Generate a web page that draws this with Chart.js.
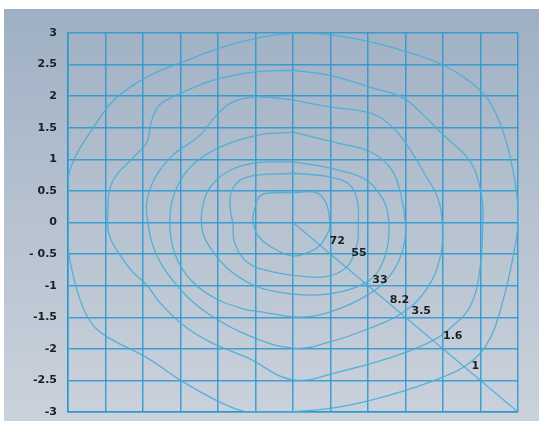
<!DOCTYPE html>
<html>
<head>
<meta charset="utf-8">
<script src="https://cdn.jsdelivr.net/npm/chart.js@4.4.1/dist/chart.umd.min.js"></script>
<style>
  html, body { margin: 0; padding: 0; background: #ffffff; }
  #wrap { width: 539px; height: 421px; position: relative; }
</style>
</head>
<body>
<div id="wrap"><canvas id="c" width="539" height="421"></canvas></div>
<script>
// Y tick labels as printed on the reference
const yTickValues = [3, 2.5, 2, 1.5, 1, 0.5, 0, -0.5, -1, -1.5, -2, -2.5, -3];
const yTickLabels = ["3", "2.5", "2", "1.5", "1", "0.5", "0", "- 0.5", "-1", "-1.5", "-2", "-2.5", "-3"];

// Contour levels and their label anchor points
const levels = ["72", "55", "33", "8.2", "3.5", "1.6", "1"];
const labelPoints = [[0.59, -0.30], [0.88, -0.48], [1.16, -0.91], [1.42, -1.23], [1.71, -1.40], [2.13, -1.80], [2.43, -2.28]];

// Contour outlines, closed curves
const contour72 = [[0,0.47],[0.32,0.47],[0.45,0.28],[0.49,-0.04],[0.47,-0.15],[0.36,-0.36],[0.19,-0.48],[0,-0.53],[-0.21,-0.44],[-0.44,-0.25],[-0.53,-0.02],[-0.53,0.12],[-0.44,0.42],[-0.27,0.47]];
const contour55 = [[0,0.78],[0.49,0.72],[0.76,0.59],[0.86,0.32],[0.87,-0.04],[0.86,-0.31],[0.74,-0.67],[0.53,-0.83],[0.23,-0.86],[-0.27,-0.78],[-0.61,-0.63],[-0.78,-0.31],[-0.80,-0.04],[-0.84,0.28],[-0.80,0.55],[-0.61,0.72]];
const contour33 = [[0,0.96],[0.49,0.86],[0.94,0.70],[1.16,0.44],[1.26,0.17],[1.27,-0.31],[1.16,-0.72],[0.99,-0.94],[0.63,-1.10],[0.23,-1.15],[-0.21,-1.10],[-0.53,-0.99],[-0.88,-0.72],[-1.15,-0.31],[-1.22,-0.04],[-1.20,0.28],[-1.11,0.55],[-0.88,0.80],[-0.53,0.94]];
const contour8_2 = [[0,1.43],[0.59,1.26],[1.03,1.12],[1.30,0.86],[1.43,0.48],[1.50,-0.04],[1.47,-0.40],[1.30,-0.83],[0.99,-1.15],[0.49,-1.42],[0.09,-1.50],[-0.35,-1.43],[-0.71,-1.35],[-1.11,-1.15],[-1.42,-0.83],[-1.60,-0.40],[-1.64,0.12],[-1.55,0.55],[-1.34,0.91],[-0.98,1.19],[-0.48,1.38]];
const contour3_5 = [[0,1.94],[0.49,1.83],[1.03,1.73],[1.30,1.54],[1.52,1.23],[1.74,0.80],[1.93,0.39],[1.99,-0.04],[1.97,-0.51],[1.79,-1.04],[1.47,-1.42],[1.03,-1.67],[0.49,-1.89],[0,-1.99],[-0.61,-1.78],[-1.11,-1.46],[-1.47,-1.10],[-1.82,-0.51],[-1.95,0.12],[-1.94,0.39],[-1.82,0.75],[-1.60,1.07],[-1.24,1.38],[-1.02,1.70],[-0.80,1.91],[-0.48,1.99]];
const contour1_6 = [[0,2.41],[0.49,2.33],[1.03,2.14],[1.47,1.97],[1.74,1.70],[2.01,1.38],[2.33,1.02],[2.46,0.70],[2.53,0.28],[2.53,-0.04],[2.50,-0.67],[2.37,-1.31],[2.10,-1.67],[1.83,-1.89],[1.30,-2.14],[0.63,-2.36],[0,-2.49],[-0.61,-2.14],[-1.11,-1.89],[-1.47,-1.62],[-1.78,-1.26],[-1.95,-0.99],[-2.14,-0.78],[-2.31,-0.51],[-2.45,-0.20],[-2.47,0.12],[-2.41,0.64],[-2.14,1.02],[-1.95,1.27],[-1.89,1.59],[-1.78,1.86],[-1.47,2.06],[-1.07,2.25],[-0.53,2.38]];
const contour1 = [[0,3.0],[0.49,2.97],[1.03,2.86],[1.52,2.70],[2.01,2.49],[2.37,2.22],[2.59,1.97],[2.77,1.54],[2.90,1.02],[2.99,0.39],[3.0,-0.04],[2.94,-0.51],[2.81,-1.19],[2.63,-1.83],[2.37,-2.21],[1.97,-2.46],[1.30,-2.73],[0.63,-2.92],[-0.04,-3.0],[-0.61,-3.0],[-0.98,-2.84],[-1.47,-2.52],[-1.95,-2.14],[-2.45,-1.83],[-2.67,-1.62],[-2.85,-1.19],[-3.0,-0.40],[-3.0,0.17],[-3.0,0.70],[-2.89,1.07],[-2.67,1.49],[-2.45,1.86],[-2.27,2.06],[-1.91,2.33],[-1.47,2.54],[-0.98,2.76],[-0.48,2.92]];

// Diagonal guide line
const diagonal = [[0, 0], [3, -3]];

const contours = [contour72, contour55, contour33, contour8_2, contour3_5, contour1_6, contour1];

function toPts(arr, close) {
  const pts = arr.map(p => ({x: p[0], y: p[1]}));
  if (close) pts.push({x: arr[0][0], y: arr[0][1]});
  return pts;
}

const lineColor = 'rgba(75,172,215,0.9)';
const gridColor = 'rgba(40,150,205,0.85)';
const fontFam = '"DejaVu Sans", Lato, sans-serif';

const datasets = contours.map((c, i) => ({
  label: levels[i],
  data: toPts(c, true),
  showLine: true,
  borderColor: lineColor,
  borderWidth: 1.3,
  pointRadius: 0,
  tension: 0.4,
  fill: false
}));
datasets.push({
  label: 'diag',
  data: toPts(diagonal, false),
  showLine: true,
  borderColor: lineColor,
  borderWidth: 1.3,
  pointRadius: 0,
  tension: 0,
  fill: false
});

const bgPlugin = {
  id: 'bg',
  beforeDraw(chart) {
    const ctx = chart.ctx;
    ctx.save();
    ctx.fillStyle = '#ffffff';
    ctx.fillRect(0, 0, chart.width, chart.height);
    const g = ctx.createLinearGradient(0, 9, 0, chart.height);
    g.addColorStop(0, '#9fb0c4');
    g.addColorStop(0.5, '#b6c2d0');
    g.addColorStop(1, '#cad2dc');
    ctx.fillStyle = g;
    ctx.fillRect(4, 9, chart.width - 4, chart.height - 9);
    ctx.restore();
  }
};

const labelPlugin = {
  id: 'levelLabels',
  afterDatasetsDraw(chart) {
    const ctx = chart.ctx;
    const xs = chart.scales.x, ys = chart.scales.y;
    ctx.save();
    ctx.font = 'bold 11px ' + fontFam;
    ctx.fillStyle = '#1a1d22';
    ctx.textAlign = 'center';
    ctx.textBaseline = 'middle';
    levels.forEach((t, i) => {
      ctx.fillText(t, xs.getPixelForValue(labelPoints[i][0]), ys.getPixelForValue(labelPoints[i][1]));
    });
    ctx.restore();
  }
};

new Chart(document.getElementById('c'), {
  type: 'scatter',
  data: { datasets },
  plugins: [bgPlugin, labelPlugin],
  options: {
    responsive: false,
    animation: false,
    devicePixelRatio: 1,
    layout: { padding: { left: 0, top: 33, right: 21, bottom: 9 } },
    plugins: { legend: { display: false }, tooltip: { enabled: false } },
    scales: {
      x: {
        type: 'linear', min: -3, max: 3,
        ticks: { display: false, stepSize: 0.5 },
        grid: { color: gridColor, lineWidth: 1.5, drawTicks: false },
        border: { color: gridColor, width: 1.5 },
        afterFit(s) { s.height = 0; s.paddingLeft = 0; s.paddingRight = 0; }
      },
      y: {
        type: 'linear', min: -3, max: 3,
        afterBuildTicks(s) { s.ticks = yTickValues.map(v => ({value: v})); },
        ticks: {
          padding: 11,
          color: '#1a1d22',
          font: { family: fontFam, size: 11, weight: 'bold' },
          callback: (v) => { const i = yTickValues.indexOf(v); return i >= 0 ? yTickLabels[i] : ''; }
        },
        grid: { color: gridColor, lineWidth: 1.5, drawTicks: false },
        border: { color: gridColor, width: 1.5 },
        afterFit(s) { s.width = 68; s.paddingTop = 0; s.paddingBottom = 0; }
      }
    }
  }
});
</script>
</body>
</html>
